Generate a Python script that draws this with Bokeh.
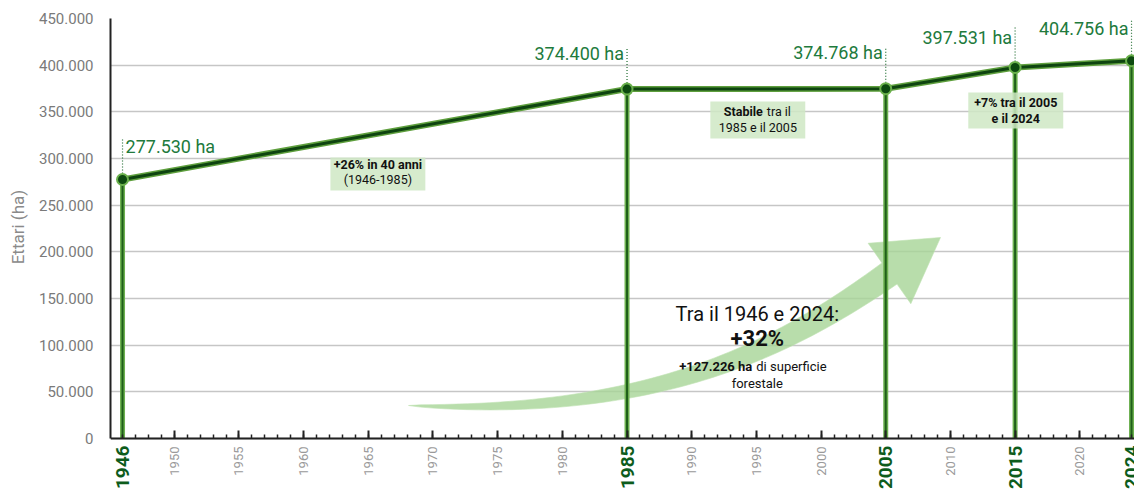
import math
import numpy as np
from bokeh.plotting import figure
from bokeh.models import Range1d, FixedTicker
from bokeh.core.properties import value
from bokeh.embed import file_html
from bokeh.resources import INLINE

# ---------------- data ----------------
years = [1946, 1985, 2005, 2015, 2024]
hectares = [277530, 374400, 374768, 397531, 404756]
value_labels = ["277.530 ha", "374.400 ha", "374.768 ha", "397.531 ha", "404.756 ha"]
y_ticks = [0, 50000, 100000, 150000, 200000, 250000, 300000, 350000, 400000, 450000]
y_tick_labels = ["0", "50.000", "100.000", "150.000", "200.000", "250.000",
                 "300.000", "350.000", "400.000", "450.000"]
x_ticks = [1950, 1955, 1960, 1965, 1970, 1975, 1980, 1985, 1990, 1995,
           2000, 2005, 2010, 2015, 2020]
highlight_years = ["1946", "1985", "2005", "2015", "2024"]

FONT = "Roboto"
W, H = 1134, 490
LEFT, TOP = 110, 18
FW, FH = W - LEFT, H - TOP          # frame size in px
X0, X1 = 1945.07, 2024.23
Y1 = 450000
Y0 = -(FH - 420) / 420 * Y1         # room below zero for the year labels

p = figure(width=W, height=H, x_range=Range1d(X0, X1), y_range=Range1d(Y0, Y1),
           output_backend="svg", toolbar_location=None,
           min_border_left=LEFT, min_border_right=0, min_border_top=TOP, min_border_bottom=0)
p.outline_line_color = None
p.background_fill_color = "white"
p.border_fill_color = "white"

p.xgrid.grid_line_color = None
p.ygrid.ticker = FixedTicker(ticks=y_ticks)
p.ygrid.grid_line_color = "#c6c6c6"
p.ygrid.grid_line_width = 1.3

# y axis
p.yaxis.ticker = FixedTicker(ticks=y_ticks)
p.yaxis.bounds = (0, Y1)
p.yaxis.major_label_overrides = {t: l for t, l in zip(y_ticks, y_tick_labels)}
p.yaxis.major_tick_line_color = None
p.yaxis.minor_tick_line_color = None
p.yaxis.axis_line_color = "#222222"
p.yaxis.axis_line_width = 2
p.yaxis.major_label_text_font = FONT
p.yaxis.major_label_text_font_size = "15px"
p.yaxis.major_label_text_color = "#7a7a7a"
p.yaxis.major_label_standoff = 11
# leading no-break spaces lift the label so it centres on the 0-450.000 span
p.yaxis.axis_label = "\u00a0" * 13 + "Ettari (ha)"
p.yaxis.axis_label_text_font = FONT
p.yaxis.axis_label_text_font_style = "normal"
p.yaxis.axis_label_text_font_size = "17px"
p.yaxis.axis_label_text_color = "#8a8a8a"
p.yaxis.axis_label_standoff = 8

# x axis, drawn at y = 0 inside the frame
p.xaxis.fixed_location = 0
p.xaxis.ticker = FixedTicker(ticks=x_ticks, minor_ticks=list(range(1946, 2025)))
p.xaxis.major_label_overrides = {1985: "", 2005: "", 2015: ""}
p.xaxis.major_label_orientation = math.pi / 2
p.xaxis.major_label_text_font = FONT
p.xaxis.major_label_text_font_size = "13px"
p.xaxis.major_label_text_color = "#9a9a9a"
p.xaxis.major_label_standoff = 8
p.xaxis.axis_line_color = "#222222"
p.xaxis.axis_line_width = 2
p.xaxis.major_tick_in = 8
p.xaxis.major_tick_out = 0
p.xaxis.major_tick_line_width = 2
p.xaxis.major_tick_line_color = "#222222"
p.xaxis.minor_tick_in = 4
p.xaxis.minor_tick_out = 0
p.xaxis.minor_tick_line_width = 1.5
p.xaxis.minor_tick_line_color = "#222222"

# ---------------- decorative curved arrow ----------------
def to_data(px, py):
    """frame pixel (from top-left) -> data coords"""
    return X0 + px / FW * (X1 - X0), Y1 - py / FH * (Y1 - Y0)

P = np.array([[298, 387], [540, 398], [669, 333], [779, 255]], dtype=float)
tip = np.array([830.0, 219.0])
ts = np.linspace(0, 1, 60)
left, right = [], []
for t in ts:
    b = ((1 - t) ** 3) * P[0] + 3 * ((1 - t) ** 2) * t * P[1] + 3 * (1 - t) * t * t * P[2] + t ** 3 * P[3]
    d = 3 * ((1 - t) ** 2) * (P[1] - P[0]) + 6 * (1 - t) * t * (P[2] - P[1]) + 3 * t * t * (P[3] - P[2])
    d = d / np.linalg.norm(d)
    n = np.array([-d[1], d[0]])
    hw = 13 * t ** 0.6
    left.append(b + n * hw)
    right.append(b - n * hw)
hd = tip - P[3]
hd = hd / np.linalg.norm(hd)
hn = np.array([-hd[1], hd[0]])
head = [P[3] + hn * 37, tip, P[3] - hn * 37]
poly = left + head + right[::-1]
ax, ay = zip(*[to_data(q[0], q[1]) for q in poly])
p.patch(list(ax), list(ay), fill_color="#a6d596", fill_alpha=0.8, line_color="#bfe2b3", line_alpha=0.6, line_width=1)

# ---------------- vertical drop lines ----------------
p.segment(x0=years, y0=[0] * len(years), x1=years, y1=hectares, line_color="#6cb04f", line_width=5)
p.segment(x0=years, y0=[0] * len(years), x1=years, y1=hectares, line_color="#1f5f1a", line_width=2)

# dotted leader lines
p.segment(x0=years, y0=hectares, x1=years, y1=[h + 45000 for h in hectares],
          line_color="#1e6b2e", line_width=1.2, line_dash="1 2")

# main line
p.line(years, hectares, line_color="#5e9f3d", line_width=6)
p.line(years, hectares, line_color="#0e4410", line_width=3)
p.scatter(years, hectares, size=11, fill_color="#0d4a10", line_color="#6ab04c", line_width=2)

# value labels
label_lift = [-33, -36, -36, -30, -32]
for i in range(len(years)):
    first = i == 0
    p.text(x=[years[i]], y=[hectares[i]], text=[value_labels[i]],
           x_offset=3 if first else -3, y_offset=label_lift[i],
           text_align="left" if first else "right", text_baseline="alphabetic",
           text_font=value(FONT), text_font_size="18px", text_color="#217a3c")

# ---------------- annotation boxes ----------------
p.rect(x=[1965.74, 1995.11, 2015.05], y=[283400, 341300, 351400], width=7.34,
       height=[35400, 39600, 38600], fill_color="#cfe8c4", fill_alpha=0.85, line_color=None)

def txt(x, y, s, size="12.5px", style="normal", align="center", xo=0, color="#111111"):
    p.text(x=[x], y=[y], text=[s], text_align=align, text_baseline="middle",
           text_font=value(FONT), text_font_size=size, text_font_style=style,
           text_color=color, x_offset=xo)

txt(1965.74, 293600, "+26% in 40 anni", style="bold")
txt(1965.74, 277500, "(1946-1985)")
txt(1995.11, 350400, "Stabile", style="bold", align="right", xo=5)
txt(1995.11, 350400, "tra il", align="left", xo=9)
txt(1995.11, 333200, "1985 e il 2005")
txt(2015.05, 360000, "+7% tra il 2005", style="bold")
txt(2015.05, 342900, "e il 2024", style="bold")

# big summary text
txt(1995.07, 133900, "Tra il 1946 e 2024:", size="20px")
txt(1995.07, 107100, "+32%", size="22px", style="bold")
txt(1995.07, 77100, "+127.226 ha", size="13px", style="bold", align="right", xo=-5)
txt(1995.07, 77100, "di superficie", size="13px", align="left", xo=-1)
txt(1995.07, 58900, "forestale", size="13px")

# highlighted year labels below the axis
p.text(x=years, y=[0] * len(years), text=highlight_years, angle=math.pi / 2, y_offset=7,
       text_align="right", text_baseline="middle", text_font=value(FONT),
       text_font_size="19px", text_font_style="bold", text_color="#0d5c1c")

open("out.html", "w").write(file_html(p, INLINE))
